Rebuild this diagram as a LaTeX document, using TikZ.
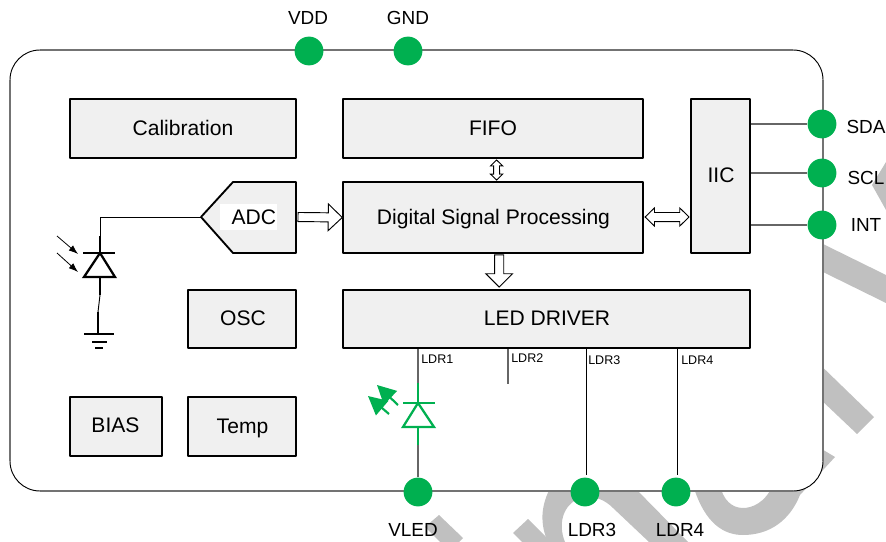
\documentclass[tikz,border=0pt]{standalone}
\usepackage{fontspec}
\setmainfont{Liberation Sans}
\usetikzlibrary{calc,arrows.meta}
\definecolor{pin}{HTML}{00B050}
\definecolor{wm}{HTML}{C0C0C0}
\definecolor{boxfill}{HTML}{F0F0F0}
\newcommand{\blockfont}{\fontsize{15.8pt}{18pt}\selectfont}
\tikzset{
  x=0.75pt,y=-0.75pt,
  block/.style={draw=black,fill=boxfill,line width=1.4pt,line join=round,minimum width=#1,inner sep=0pt,font=\blockfont},
  pinnode/.style={circle,fill=pin,minimum size=21.6pt,inner sep=0pt},
  pinlabel/.style={inner sep=0pt,font=\fontsize{14.2pt}{17pt}\selectfont},
  smalllabel/.style={inner sep=0pt,anchor=west,font=\fontsize{9.4pt}{11pt}\selectfont},
  wire/.style={draw=black!60,line width=1pt},
  thinwire/.style={draw=black,line width=.7pt},
  symbol/.style={draw=black,line width=1.7pt,line join=miter},
  ledsym/.style={draw=pin,line width=1.7pt,line join=miter},
  outer/.style={draw=black!55,line width=1pt},
  corner/.style={draw=black,line width=.7pt},
  singlearrow/.style n args={3}{draw=black,fill=white,line width=.7pt,line join=miter,
    to path={
      -- ($(\tikztostart)!#1!90:(\tikztotarget)$)
      -- ($(\tikztotarget)!#3!(\tikztostart)!#1!90:(\tikztotarget)$)
      -- ($(\tikztotarget)!#3!(\tikztostart)!#2!90:(\tikztotarget)$)
      -- (\tikztotarget)
      -- ($(\tikztotarget)!#3!(\tikztostart)!#2!-90:(\tikztotarget)$)
      -- ($(\tikztotarget)!#3!(\tikztostart)!#1!-90:(\tikztotarget)$)
      -- ($(\tikztostart)!#1!-90:(\tikztotarget)$)
      -- cycle}},
  doublearrow/.style n args={3}{draw=black,fill=white,line width=.7pt,line join=miter,
    to path={
      -- ($(\tikztostart)!#3!(\tikztotarget)!#2!90:(\tikztotarget)$)
      -- ($(\tikztostart)!#3!(\tikztotarget)!#1!90:(\tikztotarget)$)
      -- ($(\tikztotarget)!#3!(\tikztostart)!#1!90:(\tikztotarget)$)
      -- ($(\tikztotarget)!#3!(\tikztostart)!#2!90:(\tikztotarget)$)
      -- (\tikztotarget)
      -- ($(\tikztotarget)!#3!(\tikztostart)!#2!-90:(\tikztotarget)$)
      -- ($(\tikztotarget)!#3!(\tikztostart)!#1!-90:(\tikztotarget)$)
      -- ($(\tikztostart)!#3!(\tikztotarget)!#1!-90:(\tikztotarget)$)
      -- ($(\tikztostart)!#3!(\tikztotarget)!#2!-90:(\tikztotarget)$)
      -- cycle}},
}
\begin{document}
\begin{tikzpicture}
\useasboundingbox (0,0) rectangle (886,542);
% watermark
\begin{scope}
\clip (0,0) rectangle (886,542);
\fill[wm] (823,244) -- (886,275) -- (886,303) -- (823,272) -- cycle;
\fill[wm] (886,162) -- (872,185) -- (886,210) -- cycle;
\fill[wm] (810,355) -- (874,417) -- (857,434) -- (800,380) -- cycle;
\fill[wm] (693,485) .. controls (705,525) and (725,535) .. (743,535)
  .. controls (770,535) and (790,520) .. (800,495) -- (835,457) -- (815,445)
  -- (773,485) .. controls (765,503) and (752,508) .. (743,508)
  .. controls (732,508) and (723,500) .. (720,485) -- cycle;
\fill[wm] (552,485) .. controls (540,505) and (540,525) .. (548,542) -- (565,542)
  .. controls (558,525) and (562,505) .. (580,498)
  .. controls (595,495) and (605,500) .. (613,508) -- (649,542) -- (688,542) -- (632,485) -- cycle;
\fill[wm] (513,533) -- (528,519) -- (551,542) -- (522,542) -- cycle;
\fill[wm] (425,527) -- (439,515) -- (463,538) -- (459,542) -- (440,542) -- cycle;
\end{scope}
% package outline
\fill[white,rounded corners=22.5pt] (10,50) rectangle (823,491);
\draw[outer] (40,50) -- (793,50);
\draw[outer] (40,491) -- (793,491);
\draw[outer] (10,80) -- (10,461);
\draw[outer] (823,80) -- (823,461);
\draw[corner] (40,50) arc[start angle=270,end angle=180,radius=30];
\draw[corner] (793,50) arc[start angle=270,end angle=360,radius=30];
\draw[corner] (40,491) arc[start angle=90,end angle=180,radius=30];
\draw[corner] (793,491) arc[start angle=90,end angle=0,radius=30];
% blocks
\node[block=169.5pt,minimum height=44.25pt] (cal) at (183,128.5) {};
\node[inner sep=0pt,font=\blockfont] (calt) at (183,127.5) {Calibration};
\node[block=225pt,minimum height=44.25pt] (fifo) at (493,128.5) {FIFO};
\node[block=44.25pt,minimum height=115.5pt] (iic) at (720.5,176) {};
\node[inner sep=0pt,font=\blockfont] (iict) at (721,175) {IIC};
\node[block=225pt,minimum height=53.25pt] (dsp) at (493.2,217.5) {};
\node[inner sep=0pt,font=\blockfont] (dspt) at (493.5,219) {Digital Signal Processing};
\node[block=305.25pt,minimum height=43.5pt] (led) at (546.7,319) {};
\node[inner sep=0pt,font=\blockfont] (ledt) at (547,318) {LED DRIVER};
\node[block=81pt,minimum height=43.5pt] (osc) at (242,319) {};
\node[inner sep=0pt,font=\blockfont] (osct) at (243,318) {OSC};
\node[block=69pt,minimum height=44.25pt] (bias) at (116,426.5) {};
\node[inner sep=0pt,font=\blockfont] (biast) at (115.5,425) {BIAS};
\node[block=81pt,minimum height=44.25pt] (temp) at (242,426.5) {};
\node[inner sep=0pt,font=\blockfont] (tempt) at (242.5,428) {Temp};
% ADC
\coordinate (adctip) at (201,217);
\coordinate (adcport) at (296,217);
\draw[block=0pt] (adctip) -- (233,182) -- (296,182) -- (adcport) -- (296,253) -- (233,253) -- cycle;
\node[fill=white,minimum width=42.75pt,minimum height=19.5pt,inner sep=0pt,font=\blockfont] (adc) at (248.5,217) {\hspace{8pt}ADC};
% hollow arrows
\coordinate (a1) at ($(adcport)+(2,0)$);
\coordinate (a2) at (dsp.west);
\draw[singlearrow={3.4pt}{10pt}{10.5pt}] (a1) to (a2);
\coordinate (b1) at ($(fifo.south)+(3.5,1)$);
\coordinate (b2) at ($(dsp.north)+(3.5,-1)$);
\draw[doublearrow={2.2pt}{4.6pt}{4.5pt}] (b1) to (b2);
\coordinate (c1) at ($(dsp.south)+(6,1)$);
\coordinate (c2) at ($(led.north)+(-47.5,-2)$);
\draw[singlearrow={3.4pt}{10pt}{10pt}] (c1) to (c2);
\coordinate (d2) at ($(iic.west)+(-1,41)$);
\path let \p1=(dsp.east), \p2=(d2) in coordinate (d1f) at (\x1+0.75pt,\y2);
\draw[doublearrow={3.4pt}{6.8pt}{7pt}] (d1f) to (d2);
% pins
\node[pinnode] (vdd) at (309,51) {};
\node[pinnode] (gnd) at (408,51) {};
\node[pinnode] (sda) at (822,124) {};
\node[pinnode] (scl) at (822,173) {};
\node[pinnode] (int) at (822,225) {};
\node[pinnode] (vled) at (418,492) {};
\node[pinnode] (ldr3) at (585,492) {};
\node[pinnode] (ldr4) at (676,492) {};
\node[pinlabel] (tvdd) at (308,18) {VDD};
\node[pinlabel] (tgnd) at (408,18) {GND};
\node[pinlabel] (tsda) at (866,127) {SDA};
\node[pinlabel] (tscl) at (866,178) {SCL};
\node[pinlabel] (tint) at (866,225) {INT};
\node[pinlabel] (tvled) at (413,530) {VLED};
\node[pinlabel] (tldr3) at (592,530) {LDR3};
\node[pinlabel] (tldr4) at (680,530) {LDR4};
% IIC connectors
\draw[wire] (iic.east |- sda) -- (sda);
\draw[wire] (iic.east |- scl) -- (scl);
\draw[wire] (iic.east |- int) -- (int);
% photodiode
\coordinate (pdtop) at (100,236);
\coordinate (pdbar) at (100,253);
\coordinate (pdbase) at (100,277);
\coordinate (pdlow) at (100,295);
\coordinate (gndtop) at (98,312);
\coordinate (gndbar) at (98,334);
\draw[thinwire] (adctip) -| (pdtop);
\draw[symbol] (pdtop) -- (pdbar);
\draw[symbol] (83,253) -- (115,253);
\draw[symbol] (pdbar) -- (84,277) -- (115,277) -- cycle;
\draw[symbol] (pdbase) -- (pdlow);
\draw[thinwire] (pdlow) -- (gndtop);
\draw[symbol] (gndtop) -- (gndbar);
\draw[symbol] (84,334) -- (114,334);
\draw[line width=1.3pt] (92,342) -- (107,342);
\draw[line width=1.3pt] (95,348) -- (103,348);
\draw[line width=.6pt,-{Latex[length=7pt,width=5pt]}] (57,236) -- (78,254);
\draw[line width=.6pt,-{Latex[length=7pt,width=5pt]}] (57,253) -- (78,272);
% LED and drive lines
\coordinate (ltop) at (418,383);
\coordinate (lbar) at (418,403);
\coordinate (lbase) at (418,427);
\coordinate (llow) at (418,445);
\draw[wire,line width=1.2pt] (led.south -| ltop) -- (ltop);
\draw[wire,line width=1.2pt] (llow) -- (vled);
\draw[ledsym] (ltop) -- (lbar);
\draw[ledsym] (403,403) -- (435,403);
\draw[ledsym] (lbar) -- (403,427) -- (434,427) -- cycle;
\draw[ledsym] (lbase) -- (llow);
\draw[draw=pin,line width=1.6pt,-{Triangle[length=14pt,width=14pt,fill=pin]}] (398,405) -- (377,385);
\draw[draw=pin,line width=1.6pt,-{Triangle[length=14pt,width=14pt,fill=pin]}] (389,414) -- (368,396);
\coordinate (l2end) at (508,384);
\draw[wire] (led.south -| l2end) -- (l2end);
\coordinate (l3end) at (586,475);
\draw[thinwire] (led.south -| l3end) -- (l3end);
\coordinate (l4end) at (677,475);
\draw[thinwire] (led.south -| l4end) -- (l4end);
\node[smalllabel] (n1) at (421,359) {LDR1};
\node[smalllabel] (n2) at (511,358) {LDR2};
\node[smalllabel] (n3) at (588,360) {LDR3};
\node[smalllabel] (n4) at (681,360) {LDR4};
\end{tikzpicture}
\end{document}
